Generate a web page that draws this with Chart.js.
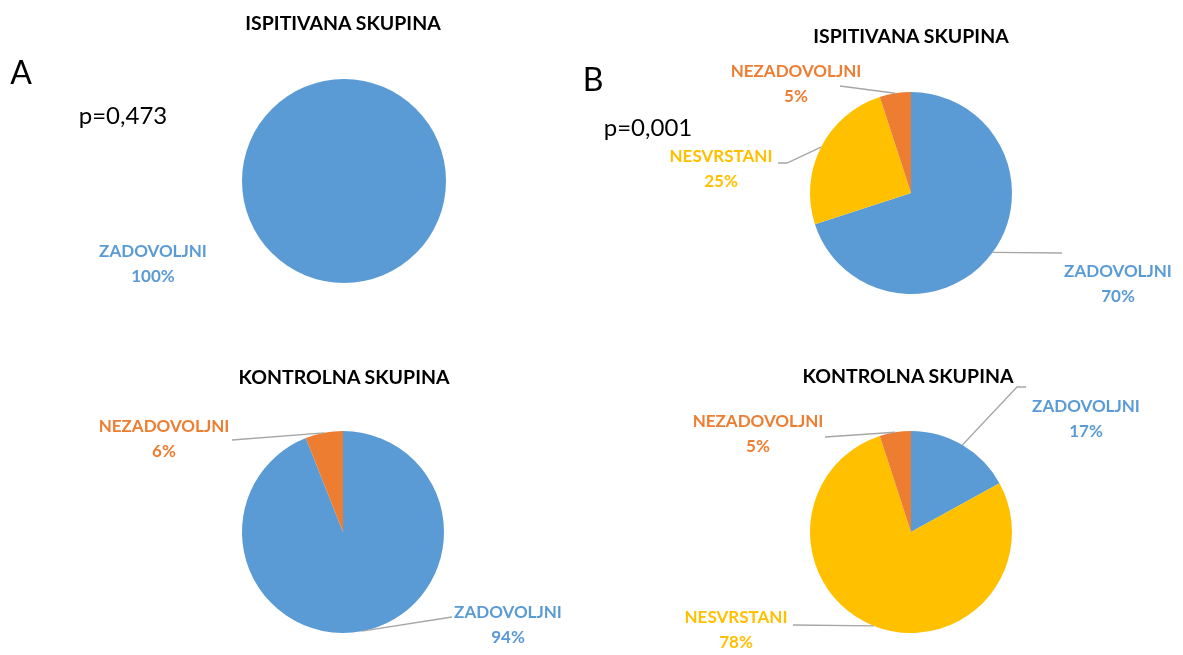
<!DOCTYPE html>
<html>
<head>
<meta charset="utf-8">
<script src="https://cdn.jsdelivr.net/npm/chart.js@4/dist/chart.umd.min.js"></script>
<style>
  body { margin: 0; background: #fff; }
  #wrap { position: relative; width: 1183px; height: 655px; overflow: hidden; font-family: Lato, 'Open Sans', sans-serif; }
  canvas { position: absolute; }
  .txt { position: absolute; white-space: nowrap; transform: translate(-50%, -50%); line-height: 1; }
  .title { font-weight: bold; font-size: 19.5px; color: #000; }
  .big { font-size: 32px; color: #000; }
  .pval { font-size: 24px; color: #000; }
</style>
</head>
<body>
<div id="wrap">
  <canvas id="pieA1" width="580" height="340" style="left:0;top:0"></canvas>
  <canvas id="pieA2" width="580" height="315" style="left:0;top:340px"></canvas>
  <canvas id="pieB1" width="603" height="340" style="left:580px;top:0"></canvas>
  <canvas id="pieB2" width="603" height="315" style="left:580px;top:340px"></canvas>

  <div class="txt title" style="left:343px;top:23px">ISPITIVANA SKUPINA</div>
  <div class="txt title" style="left:911px;top:36px">ISPITIVANA SKUPINA</div>
  <div class="txt title" style="left:344px;top:377px">KONTROLNA SKUPINA</div>
  <div class="txt title" style="left:908px;top:376px">KONTROLNA SKUPINA</div>
  <div class="txt big" style="left:21px;top:72px">A</div>
  <div class="txt big" style="left:593px;top:79px">B</div>
  <div class="txt pval" style="left:123px;top:115px">p=0,473</div>
  <div class="txt pval" style="left:648px;top:127px">p=0,001</div>
</div>
<script>
// podatki (odstotki)
const labelsA1 = ['ZADOVOLJNI'];
const valuesA1 = [100];
const labelsA2 = ['ZADOVOLJNI', 'NEZADOVOLJNI'];
const valuesA2 = [94, 6];
const labelsB1 = ['ZADOVOLJNI', 'NESVRSTANI', 'NEZADOVOLJNI'];
const valuesB1 = [70, 25, 5];
const labelsB2 = ['ZADOVOLJNI', 'NESVRSTANI', 'NEZADOVOLJNI'];
const valuesB2 = [17, 78, 5];

const barve = {
    'ZADOVOLJNI': '#5B9BD5',
    'NESVRSTANI': '#FFC000',
    'NEZADOVOLJNI': '#ED7D31'
};

// napisi ob rezinah: sredina besedila (tx, ty), konec vodilne crte (lx, ly), pregib (ex, ey)
const labelPlugin = {
    id: 'sliceLabels',
    afterDatasetsDraw(chart, args, opts) {
        const ctx = chart.ctx;
        const meta = chart.getDatasetMeta(0);
        const data = chart.data.datasets[0].data;
        meta.data.forEach((arc, i) => {
            const pos = opts.items[i];
            if (!pos) return;
            const p = arc.getProps(['x', 'y', 'startAngle', 'endAngle', 'outerRadius'], true);
            const mid = (p.startAngle + p.endAngle) / 2;
            ctx.save();
            if (pos.lx !== undefined) {
                ctx.strokeStyle = '#A6A6A6';
                ctx.lineWidth = 1.3;
                ctx.beginPath();
                ctx.moveTo(pos.lx, pos.ly);
                if (pos.ex !== undefined) ctx.lineTo(pos.ex, pos.ey);
                ctx.lineTo(p.x + Math.cos(mid) * p.outerRadius, p.y + Math.sin(mid) * p.outerRadius);
                ctx.stroke();
            }
            ctx.fillStyle = barve[chart.data.labels[i]];
            ctx.font = 'bold 17px Lato, sans-serif';
            ctx.textAlign = 'center';
            ctx.textBaseline = 'middle';
            ctx.fillText(chart.data.labels[i], pos.tx, pos.ty);
            ctx.fillText(data[i] + '%', pos.tx, pos.ty + 25);
            ctx.restore();
        });
    }
};

function narisiPito(id, labels, values, cx, cy, r, items) {
    const canvas = document.getElementById(id);
    return new Chart(canvas.getContext('2d'), {
        type: 'pie',
        data: {
            labels: labels,
            datasets: [{
                data: values,
                backgroundColor: labels.map(l => barve[l]),
                borderWidth: 0
            }]
        },
        options: {
            responsive: false,
            animation: false,
            devicePixelRatio: 1,
            layout: {
                padding: {
                    left: cx - r,
                    right: canvas.width - cx - r,
                    top: cy - r,
                    bottom: canvas.height - cy - r
                }
            },
            plugins: {
                legend: { display: false },
                tooltip: { enabled: false },
                sliceLabels: { items: items }
            }
        },
        plugins: [labelPlugin]
    });
}

narisiPito('pieA1', labelsA1, valuesA1, 344, 181, 102, [
    { tx: 153, ty: 252 }
]);
narisiPito('pieA2', labelsA2, valuesA2, 343, 192, 101, [
    { tx: 508, ty: 273, lx: 452, ly: 277 },
    { tx: 164, ty: 87, lx: 232, ly: 100 }
]);
narisiPito('pieB1', labelsB1, valuesB1, 331, 193, 101, [
    { tx: 538, ty: 272, lx: 482, ly: 253 },
    { tx: 141, ty: 157, lx: 198, ly: 163, ex: 207, ey: 163 },
    { tx: 216, ty: 72, lx: 260, ly: 86 }
]);
narisiPito('pieB2', labelsB2, valuesB2, 331, 192, 101, [
    { tx: 506, ty: 67, lx: 446, ly: 47, ex: 437, ey: 47 },
    { tx: 156, ty: 278, lx: 213, ly: 285 },
    { tx: 178, ty: 82, lx: 245, ly: 97 }
]);
</script>
</body>
</html>
